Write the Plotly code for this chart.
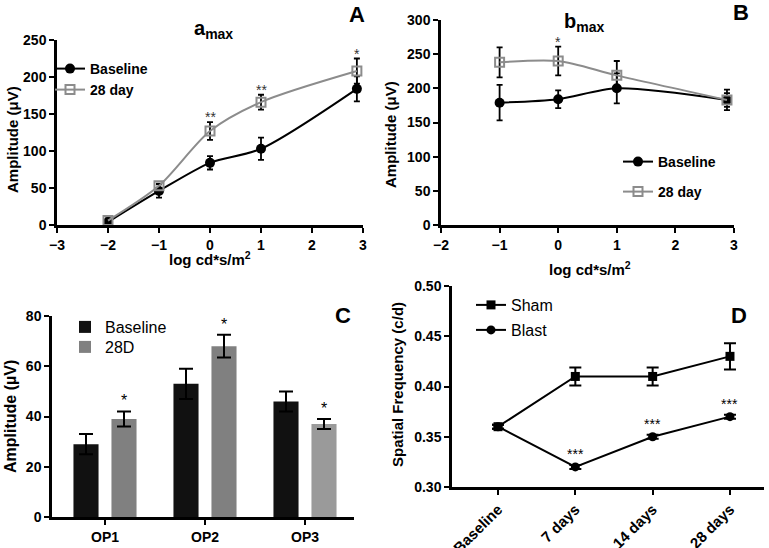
import plotly.graph_objects as go

W, H = 769, 548

# ---------------- data ----------------
# Panel A (a-max)
a_x = [-2, -1, 0, 1, 2.88]
a_base = [4, 46, 84, 103, 184]
a_base_err = [3, 9, 9, 15, 17]
a_28 = [6, 53, 127, 166, 208]
a_28_err = [3, 3, 12, 10, 17]
a_stars = ["", "", "**", "**", "*"]

# Panel B (b-max)
b_x = [-1, 0, 1, 2.88]
b_base = [179, 184, 200, 183]
b_base_err = [26, 13, 22, 15]
b_28 = [238, 240, 219, 183]
b_28_err = [22, 21, 21, 10]
b_stars = ["", "*", "", ""]

# Panel C (oscillatory potentials)
c_cats = ["OP1", "OP2", "OP3"]
c_base = [29, 53, 46]
c_base_err = [4, 6, 4]
c_28 = [39, 68, 37]
c_28_err = [3, 4.5, 2]
c_stars = ["*", "*", "*"]

# Panel D (spatial frequency)
d_cats = ["Baseline", "7 days", "14 days", "28 days"]
d_sham = [0.36, 0.41, 0.41, 0.43]
d_sham_err = [0.002, 0.009, 0.009, 0.013]
d_blast = [0.36, 0.32, 0.35, 0.37]
d_blast_err = [0.002, 0.002, 0.002, 0.002]
d_stars = ["", "***", "***", "***"]

FONT = "Liberation Sans, Arial, sans-serif"
GRAY = "#8c8c8c"


def xd(a, b):
    return [a / W, b / W]


def yd(top, bot):
    return [1 - bot / H, 1 - top / H]


def px(x):
    return x / W


def py(y):
    return 1 - y / H


fig = go.Figure()

# ---------- Panel A ----------
fig.add_trace(go.Scatter(
    x=a_x, y=a_base, mode="lines+markers", name="Baseline",
    line=dict(color="black", width=2, shape="spline", smoothing=0.8),
    marker=dict(symbol="circle", size=10, color="black"),
    error_y=dict(type="data", array=a_base_err, color="black", thickness=1.8, width=3),
    xaxis="x", yaxis="y", legend="legend"))
fig.add_trace(go.Scatter(
    x=a_x, y=a_28, mode="lines+markers", name="28 day",
    line=dict(color=GRAY, width=2, shape="spline", smoothing=0.8),
    marker=dict(symbol="square-open", size=9, color=GRAY, line=dict(width=2, color=GRAY)),
    error_y=dict(type="data", array=a_28_err, color="black", thickness=1.8, width=3),
    xaxis="x", yaxis="y", legend="legend2"))

# ---------- Panel B ----------
fig.add_trace(go.Scatter(
    x=b_x, y=b_base, mode="lines+markers", name="Baseline",
    line=dict(color="black", width=2, shape="spline", smoothing=0.8),
    marker=dict(symbol="circle", size=10, color="black"),
    error_y=dict(type="data", array=b_base_err, color="black", thickness=1.8, width=3),
    xaxis="x2", yaxis="y2", legend="legend3"))
fig.add_trace(go.Scatter(
    x=b_x, y=b_28, mode="lines+markers", name="28 day",
    line=dict(color=GRAY, width=2, shape="spline", smoothing=0.8),
    marker=dict(symbol="square-open", size=9, color=GRAY, line=dict(width=2, color=GRAY)),
    error_y=dict(type="data", array=b_28_err, color="black", thickness=1.8, width=3),
    xaxis="x2", yaxis="y2", legend="legend4"))

# ---------- Panel C ----------
fig.add_trace(go.Bar(
    x=c_cats, y=c_base, name="Baseline", marker=dict(color="#111111", line=dict(width=0)),
    error_y=dict(type="data", array=c_base_err, color="black", thickness=2, width=7),
    xaxis="x3", yaxis="y3", legend="legend5"))
fig.add_trace(go.Bar(
    x=c_cats, y=c_28, name="28D",
    marker=dict(color=["#808080", "#808080", "#9a9a9a"], line=dict(width=0)),
    error_y=dict(type="data", array=c_28_err, color="black", thickness=2, width=7),
    xaxis="x3", yaxis="y3", legend="legend6"))

# ---------- Panel D ----------
fig.add_trace(go.Scatter(
    x=d_cats, y=d_sham, mode="lines+markers", name="Sham",
    line=dict(color="black", width=2),
    marker=dict(symbol="square", size=9, color="black"),
    error_y=dict(type="data", array=d_sham_err, color="black", thickness=2, width=6),
    xaxis="x4", yaxis="y4", legend="legend7"))
fig.add_trace(go.Scatter(
    x=d_cats, y=d_blast, mode="lines+markers", name="Blast",
    line=dict(color="black", width=2),
    marker=dict(symbol="circle", size=9, color="black"),
    error_y=dict(type="data", array=d_blast_err, color="black", thickness=2, width=6),
    xaxis="x4", yaxis="y4", legend="legend8"))

# ---------- axes ----------
tickfont = dict(family=FONT, size=14, color="black", weight="bold")
common = dict(showline=True, linecolor="black", linewidth=2.5, ticks="outside",
              ticklen=5, tickwidth=2, tickcolor="black", showgrid=False,
              zeroline=False, tickfont=tickfont, fixedrange=True, automargin=False)
common_d = dict(common)
common_d["tickfont"] = dict(family=FONT, size=15, color="black", weight="bold")

fig.update_layout(
    template="none",
    showlegend=True,
    xaxis=dict(domain=xd(57, 363), range=[-3, 3], tickvals=[-3, -2, -1, 0, 1, 2, 3],
               anchor="y", **common),
    yaxis=dict(domain=yd(40, 225), range=[0, 250], tickvals=[0, 50, 100, 150, 200, 250],
               anchor="x", **common),
    xaxis2=dict(domain=xd(441, 734), range=[-2, 3], tickvals=[-2, -1, 0, 1, 2, 3],
                anchor="y2", **common),
    yaxis2=dict(domain=yd(20, 225), range=[0, 300], tickvals=[0, 50, 100, 150, 200, 250, 300],
                anchor="x2", **common),
    xaxis3=dict(domain=xd(52, 354), range=[-0.53, 2.49], anchor="y3", **common),
    yaxis3=dict(domain=yd(316, 517), range=[0, 80], tickvals=[0, 20, 40, 60, 80],
                anchor="x3", **common),
    xaxis4=dict(domain=xd(452, 764), range=[-0.595, 3.44], anchor="y4", tickangle=-45,
                **common_d),
    yaxis4=dict(domain=yd(286, 487), range=[0.30, 0.50],
                tickvals=[0.30, 0.35, 0.40, 0.45, 0.50], tickformat=".2f",
                anchor="x4", **common),
    barmode="group", bargap=0.24, bargroupgap=0.34,
    width=W, height=H, margin=dict(l=0, r=0, t=0, b=0),
    paper_bgcolor="white", plot_bgcolor="white",
    font=dict(family=FONT, color="black"),
)

leg_common = dict(bgcolor="rgba(0,0,0,0)", xanchor="left", yanchor="middle",
                  tracegroupgap=0, itemwidth=30, borderwidth=0, visible=True)
boldleg = dict(family=FONT, size=14, weight="bold", color="black")
regleg = dict(family=FONT, size=16, color="black")
fig.update_layout(
    legend=dict(x=px(50), y=py(69), font=boldleg, **leg_common),
    legend2=dict(x=px(50), y=py(90), font=boldleg, **leg_common),
    legend3=dict(x=px(618), y=py(162), font=boldleg, **leg_common),
    legend4=dict(x=px(618), y=py(192), font=boldleg, **leg_common),
    legend5=dict(x=px(65), y=py(327), font=regleg, **leg_common),
    legend6=dict(x=px(65), y=py(347), font=regleg, **leg_common),
    legend7=dict(x=px(471), y=py(305), font=regleg, **leg_common),
    legend8=dict(x=px(471), y=py(330), font=regleg, **leg_common),
)

ann = []


def text(x, y, t, size, bold=True, angle=0, color="black"):
    ann.append(dict(x=px(x), y=py(y), xref="paper", yref="paper", text=t, showarrow=False,
                    textangle=angle, xanchor="center", yanchor="middle",
                    font=dict(family=FONT, size=size, color=color,
                              weight="bold" if bold else "normal")))


# panel letters & titles
text(357, 15, "A", 22)
text(741, 13, "B", 22)
text(343, 315, "C", 22)
text(739, 315, "D", 22)
text(213, 30, "a<sub>max</sub>", 20)
text(584, 23, "b<sub>max</sub>", 20)
# axis titles
text(12, 140, "Amplitude (μV)", 15, angle=-90)
text(390, 135, "Amplitude (μV)", 15, angle=-90)
text(210, 258, "log cd*s/m<sup>2</sup>", 15)
text(590, 268, "log cd*s/m<sup>2</sup>", 15)
text(10, 417, "Amplitude (µV)", 16, angle=-90)
text(397, 385, "Spatial Frequency (c/d)", 15, angle=-90)

# significance stars
for xv, yv, ev, s in zip(a_x, a_28, a_28_err, a_stars):
    if s:
        ann.append(dict(x=xv, y=yv + ev, xref="x", yref="y", text=s, showarrow=False,
                        yanchor="bottom", yshift=-5, font=dict(family=FONT, size=14, color="#333")))
for xv, yv, ev, s in zip(b_x, b_28, b_28_err, b_stars):
    if s:
        ann.append(dict(x=xv, y=yv + ev, xref="x2", yref="y2", text=s, showarrow=False,
                        yanchor="bottom", yshift=-5, font=dict(family=FONT, size=14, color="#333")))
for i, (yv, ev, s) in enumerate(zip(c_28, c_28_err, c_stars)):
    if s:
        ann.append(dict(x=i + 0.185, y=yv + ev, xref="x3", yref="y3", text=s, showarrow=False,
                        yanchor="bottom", yshift=0, font=dict(family=FONT, size=16, color="black")))
for xv, yv, ev, s in zip(d_cats, d_blast, d_blast_err, d_stars):
    if s:
        ann.append(dict(x=xv, y=yv + ev, xref="x4", yref="y4", text=s, showarrow=False,
                        yanchor="bottom", yshift=1, font=dict(family=FONT, size=14, color="black")))

fig.update_layout(annotations=ann)

fig.write_html("out.html", config={"displayModeBar": False},
               post_script="document.body.style.margin='0px';")
